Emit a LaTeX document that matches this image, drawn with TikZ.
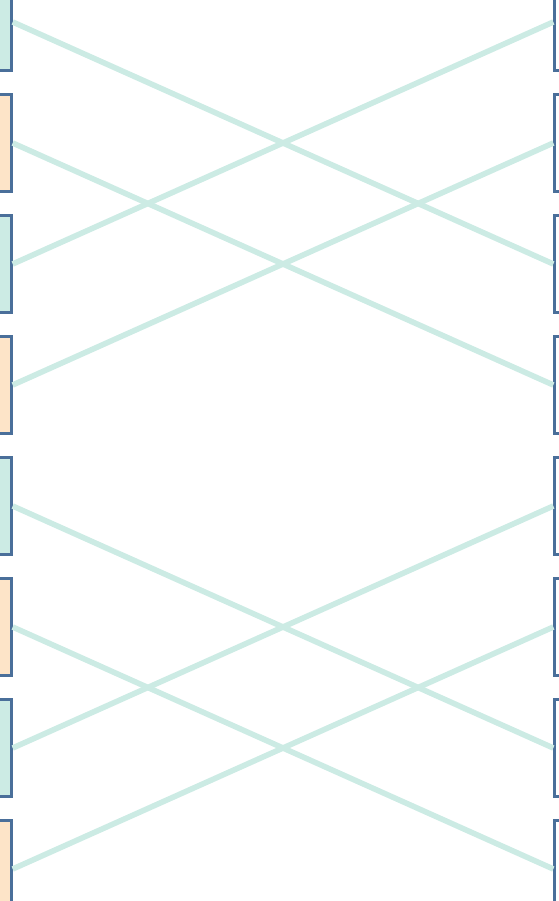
\documentclass[tikz,border=0pt]{standalone}
\usepackage{tikz}
\usetikzlibrary{positioning}

\definecolor{laneEdge}{HTML}{4A6F9A}
\definecolor{laneTeal}{HTML}{CCEBE4}
\definecolor{laneOrange}{HTML}{FDE4C8}

\begin{document}
\begin{tikzpicture}[
        node distance=21.4pt,
        tealBlock/.style={
            rectangle, draw=laneEdge, line width=2.6pt,
            fill=laneTeal, minimum width=60pt, minimum height=97pt
        },
        orangeBlock/.style={
            rectangle, draw=laneEdge, line width=2.6pt,
            fill=laneOrange, minimum width=60pt, minimum height=97pt
        },
        portBlock/.style={
            rectangle, draw=laneEdge, line width=2.6pt,
            fill=white, minimum width=60pt, minimum height=97pt
        },
        wire/.style={
            draw=laneTeal, line width=5.6pt
        }
    ]
        \useasboundingbox (0pt,0pt) rectangle (558pt,-901pt);

        % Left column
        \node (l1) [tealBlock] at (-18.6pt,-22pt) {};
        \node (l2) [orangeBlock, below=of l1] {};
        \node (l3) [tealBlock, below=of l2] {};
        \node (l4) [orangeBlock, below=of l3] {};
        \node (l5) [tealBlock, below=of l4] {};
        \node (l6) [orangeBlock, below=of l5] {};
        \node (l7) [tealBlock, below=of l6] {};
        \node (l8) [orangeBlock, below=of l7] {};

        % Right column
        \node (r1) [portBlock] at (584.6pt,-22pt) {};
        \node (r2) [portBlock, below=of r1] {};
        \node (r3) [portBlock, below=of r2] {};
        \node (r4) [portBlock, below=of r3] {};
        \node (r5) [portBlock, below=of r4] {};
        \node (r6) [portBlock, below=of r5] {};
        \node (r7) [portBlock, below=of r6] {};
        \node (r8) [portBlock, below=of r7] {};

        % Wires
        \draw [wire] (l1.east) -- (r3.west);
        \draw [wire] (l2.east) -- (r4.west);
        \draw [wire] (l3.east) -- (r1.west);
        \draw [wire] (l4.east) -- (r2.west);
        \draw [wire] (l5.east) -- (r7.west);
        \draw [wire] (l6.east) -- (r8.west);
        \draw [wire] (l7.east) -- (r5.west);
        \draw [wire] (l8.east) -- (r6.west);
    \end{tikzpicture}
\end{document}
